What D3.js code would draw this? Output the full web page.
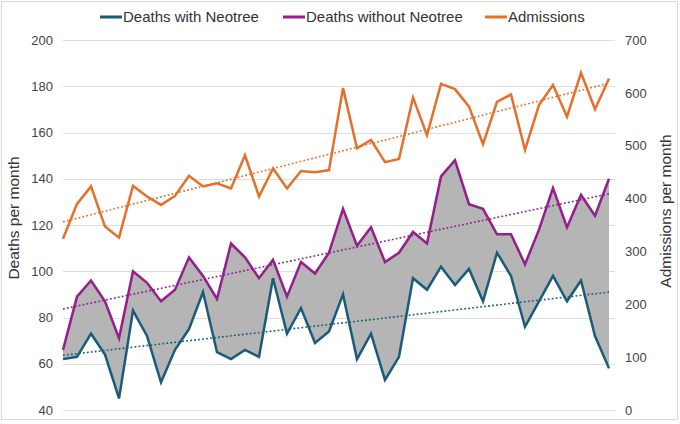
<!DOCTYPE html>
<html>
<head>
<meta charset="utf-8">
<script src="https://cdn.jsdelivr.net/npm/d3@7"></script>
<style>
  body { margin: 0; background: #fff; }
  svg { font-family: "Liberation Sans", Arial, sans-serif; }
</style>
</head>
<body>
<svg id="chart" width="680" height="424"></svg>
<script>
// monthly values
const withNeotree = [62, 63, 73, 64, 45, 83, 72, 52, 66, 75, 91, 65, 62, 66, 63, 97, 73, 84, 69, 74,
	90, 62, 73, 53, 63, 97, 92, 102, 94, 101, 87, 108, 98, 76, 87, 98, 87, 96, 72, 58]
const withoutNeotree = [66, 89, 96, 87, 71, 100, 95, 87, 92, 106, 98, 88, 112, 106, 97, 105, 89, 104, 99, 108,
	127, 111, 119, 104, 108, 117, 112, 141, 148, 129, 127, 116, 116, 103, 118, 136, 119, 133, 124, 140]
const admissions = [324, 390, 423, 347, 326, 424, 404, 388, 405, 443, 423, 429, 419, 482, 404, 457, 419, 452, 450, 454,
	609, 495, 511, 469, 475, 591, 520, 617, 607, 574, 503, 583, 597, 492, 577, 615, 555, 638, 569, 627]
const months = d3.range(withNeotree.length)

const leftTicks = [40, 60, 80, 100, 120, 140, 160, 180, 200]
const rightTicks = [0, 100, 200, 300, 400, 500, 600, 700]

const series = [
	{ name: 'Deaths with Neotree', values: withNeotree, color: '#1b5b7a', axis: 'left' },
	{ name: 'Deaths without Neotree', values: withoutNeotree, color: '#961d8c', axis: 'left' },
	{ name: 'Admissions', values: admissions, color: '#e5702b', axis: 'right' }
]

const svg = d3.select('#chart')
const plot = { left: 63, right: 609, top: 40, bottom: 410, gridEnd: 615 }

const x = d3.scaleLinear().domain([0, months.length - 1]).range([plot.left, plot.right])
const yL = d3.scaleLinear().domain([40, 200]).range([plot.bottom, plot.top])
const yR = d3.scaleLinear().domain([0, 700]).range([plot.bottom, plot.top])

// least squares line, like the spreadsheet trendline
const trend = (vals) => {
	const n = vals.length
	const mx = d3.mean(months), my = d3.mean(vals)
	let sxy = 0, sxx = 0
	vals.forEach((v, i) => { sxy += (i - mx) * (v - my); sxx += (i - mx) * (i - mx) })
	const b = sxy / sxx
	return [0, n - 1].map((i) => [i, my + b * (i - mx)])
}

svg.append('rect')
	.attr('x', 1.5).attr('y', 1.5)
	.attr('width', 676).attr('height', 418)
	.attr('fill', 'none').attr('stroke', '#d9d9d9')

// gridlines
svg.append('g')
	.selectAll('line')
	.data(leftTicks)
	.join('line')
		.attr('x1', plot.left).attr('x2', plot.gridEnd)
		.attr('y1', (d) => Math.round(yL(d)) + 0.5)
		.attr('y2', (d) => Math.round(yL(d)) + 0.5)
		.attr('stroke', '#dedede')

// gray band between the two death series
svg.append('path')
	.datum(months)
	.attr('fill', '#b5b5b5')
	.attr('d', d3.area()
		.x((i) => x(i))
		.y0((i) => yL(withNeotree[i]))
		.y1((i) => yL(withoutNeotree[i])))

// axes
const leftAxis = svg.append('g')
	.attr('transform', `translate(${plot.left},0)`)
	.call(d3.axisLeft(yL).tickValues(leftTicks).tickSize(0).tickPadding(10))
const rightAxis = svg.append('g')
	.attr('transform', `translate(${plot.gridEnd},0)`)
	.call(d3.axisRight(yR).tickValues(rightTicks).tickSize(0).tickPadding(10))
;[leftAxis, rightAxis].forEach((g) => {
	g.select('.domain').remove()
	g.selectAll('text')
		.attr('font-size', 13)
		.attr('fill', '#444')
		.attr('font-family', '"Liberation Sans", Arial, sans-serif')
})

svg.append('text')
	.attr('transform', 'translate(19,218) rotate(-90)')
	.attr('text-anchor', 'middle')
	.attr('font-size', 15.5)
	.attr('fill', '#333')
	.text('Deaths per month')
svg.append('text')
	.attr('transform', 'translate(671,211) rotate(-90)')
	.attr('text-anchor', 'middle')
	.attr('font-size', 15.5)
	.attr('fill', '#333')
	.text('Admissions per month')

// dotted trendlines
series.forEach((s) => {
	const y = s.axis === 'left' ? yL : yR
	svg.append('path')
		.datum(trend(s.values))
		.attr('fill', 'none')
		.attr('stroke', s.color)
		.attr('stroke-width', 1.6)
		.attr('stroke-dasharray', '1.8 2.2')
		.attr('d', d3.line().x((d) => x(d[0])).y((d) => y(d[1])))
})

// data lines
series.forEach((s) => {
	const y = s.axis === 'left' ? yL : yR
	svg.append('path')
		.datum(s.values)
		.attr('fill', 'none')
		.attr('stroke', s.color)
		.attr('stroke-width', 2.5)
		.attr('stroke-linejoin', 'miter')
		.attr('d', d3.line().x((d, i) => x(i)).y((d) => y(d)))
})

// legend
const legendX = [100, 283, 485]
const legend = svg.append('g')
	.selectAll('g')
	.data(series)
	.join('g')
		.attr('transform', (d, i) => `translate(${legendX[i]},17)`)
legend.append('line')
	.attr('x1', 0).attr('x2', 22)
	.attr('stroke', (d) => d.color)
	.attr('stroke-width', 3)
legend.append('text')
	.attr('x', 23)
	.attr('dy', '0.35em')
	.attr('font-size', 15)
	.attr('fill', '#333')
	.text((d) => d.name)
</script>
</body>
</html>
